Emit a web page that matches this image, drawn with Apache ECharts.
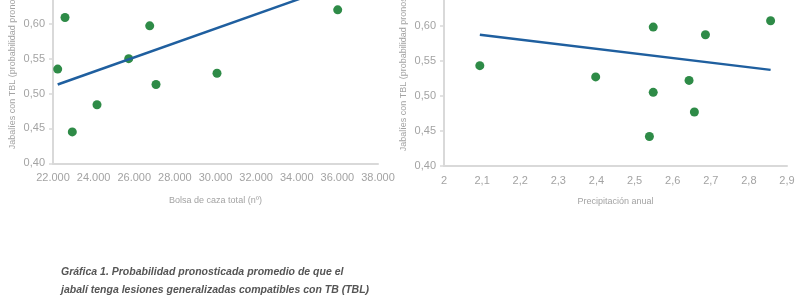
<!DOCTYPE html>
<html><head><meta charset="utf-8">
<script src="https://cdn.jsdelivr.net/npm/echarts@6/dist/echarts.min.js"></script>
<style>html,body{margin:0;padding:0;background:#fff;overflow:hidden;width:800px;height:300px}
#wrap{position:relative;width:800px;height:300px;overflow:hidden}
#c{position:absolute;left:0;top:-60px;width:800px;height:360px}</style>
</head><body><div id="wrap"><div id="c"></div></div>
<script>
// Left panel: Bolsa de caza total
const bolsaX = [22231, 22591, 22950, 24166, 25727, 26761, 27071, 30074, 36016];
const bolsaY = [0.535, 0.609, 0.445, 0.484, 0.550, 0.597, 0.513, 0.529, 0.620];
const bolsaTrendX = [22231, 36016];
const bolsaTrendY = [0.513, 0.655];
// Right panel: Precipitación anual
const precX = [2.094, 2.398, 2.549, 2.549, 2.539, 2.643, 2.657, 2.686, 2.857];
const precY = [0.543, 0.527, 0.598, 0.505, 0.442, 0.522, 0.477, 0.587, 0.607];
const precTrendX = [2.094, 2.857];
const precTrendY = [0.587, 0.537];
const yTitle = 'Jabalíes con TBL (probabilidad pronosticada)';
const xTitleLeft = 'Bolsa de caza total (nº)';
const xTitleRight = 'Precipitación anual';
const captionBold = 'Gráfica 1.';
const captionRest1 = ' Probabilidad pronosticada promedio de que el';
const captionLine2 = 'jabalí tenga lesiones generalizadas compatibles con TB (TBL)';

const FONT = "'Liberation Sans', Arial, sans-serif";
const GREY = '#a3a3a3';
const AXIS = '#d9d9d9';
const GREEN = '#2e8b47';
const BLUE = '#1f5f9f';

const zip = (a, b) => a.map((v, i) => [v, b[i]]);

function yAxis(gi) {
  return {
    type: 'value', gridIndex: gi, min: 0.40, max: 0.70, interval: 0.05,
    name: yTitle, nameLocation: 'middle', nameRotate: 90, nameGap: 36,
    nameTextStyle: { color: GREY, fontFamily: FONT, fontSize: 9 },
    axisLine: { show: true, lineStyle: { color: AXIS, width: 2 } },
    axisTick: { show: true, length: 4, lineStyle: { color: AXIS, width: 1.5 } },
    splitLine: { show: false },
    axisLabel: { color: GREY, fontFamily: FONT, fontSize: 11, margin: 8,
      formatter: v => v.toFixed(2).replace('.', ',') }
  };
}

const chart = echarts.init(document.getElementById('c'), null, { renderer: 'canvas' });
chart.setOption({
  animation: false,
  title: {
    left: 56, top: 318,
    text: '{b|' + captionBold + '}{n|' + captionRest1 + '}\n{n|' + captionLine2 + '}',
    textStyle: {
      lineHeight: 18,
      rich: {
        b: { fontFamily: FONT, fontSize: 10.5, fontWeight: 'bold', fontStyle: 'italic', color: '#555', lineHeight: 18 },
        n: { fontFamily: FONT, fontSize: 10.5, fontStyle: 'italic', color: '#555', lineHeight: 18 }
      }
    }
  },
  grid: [
    { left: 53, right: 422, top: 14, bottom: 136.7 },
    { left: 444, right: 13, top: 15.5, bottom: 134 }
  ],
  xAxis: [
    { type: 'value', gridIndex: 0, min: 22000, max: 38000, interval: 2000,
      name: xTitleLeft, nameLocation: 'middle', nameGap: 33,
      nameTextStyle: { color: GREY, fontFamily: FONT, fontSize: 9 },
      axisLine: { show: true, lineStyle: { color: AXIS, width: 2 } },
      axisTick: { show: false }, splitLine: { show: false },
      axisLabel: { color: GREY, fontFamily: FONT, fontSize: 11, margin: 9,
        formatter: v => (v / 1000).toFixed(0) + '.000' } },
    { type: 'value', gridIndex: 1, min: 2, max: 2.9, interval: 0.1,
      name: xTitleRight, nameLocation: 'middle', nameGap: 31,
      nameTextStyle: { color: GREY, fontFamily: FONT, fontSize: 9 },
      axisLine: { show: true, lineStyle: { color: AXIS, width: 2 } },
      axisTick: { show: false }, splitLine: { show: false },
      axisLabel: { color: GREY, fontFamily: FONT, fontSize: 11, margin: 9,
        formatter: v => (Math.round(v * 10) / 10).toString().replace('.', ',') } }
  ],
  yAxis: [yAxis(0), yAxis(1)],
  series: [
    { type: 'line', xAxisIndex: 0, yAxisIndex: 0, data: zip(bolsaTrendX, bolsaTrendY),
      symbol: 'none', clip: true, lineStyle: { color: BLUE, width: 2.5 } },
    { type: 'scatter', xAxisIndex: 0, yAxisIndex: 0, data: zip(bolsaX, bolsaY),
      symbolSize: 9, itemStyle: { color: GREEN, opacity: 1 } },
    { type: 'line', xAxisIndex: 1, yAxisIndex: 1, data: zip(precTrendX, precTrendY),
      symbol: 'none', clip: true, lineStyle: { color: BLUE, width: 2.5 } },
    { type: 'scatter', xAxisIndex: 1, yAxisIndex: 1, data: zip(precX, precY),
      symbolSize: 9, itemStyle: { color: GREEN, opacity: 1 } }
  ]
});
</script></body></html>
